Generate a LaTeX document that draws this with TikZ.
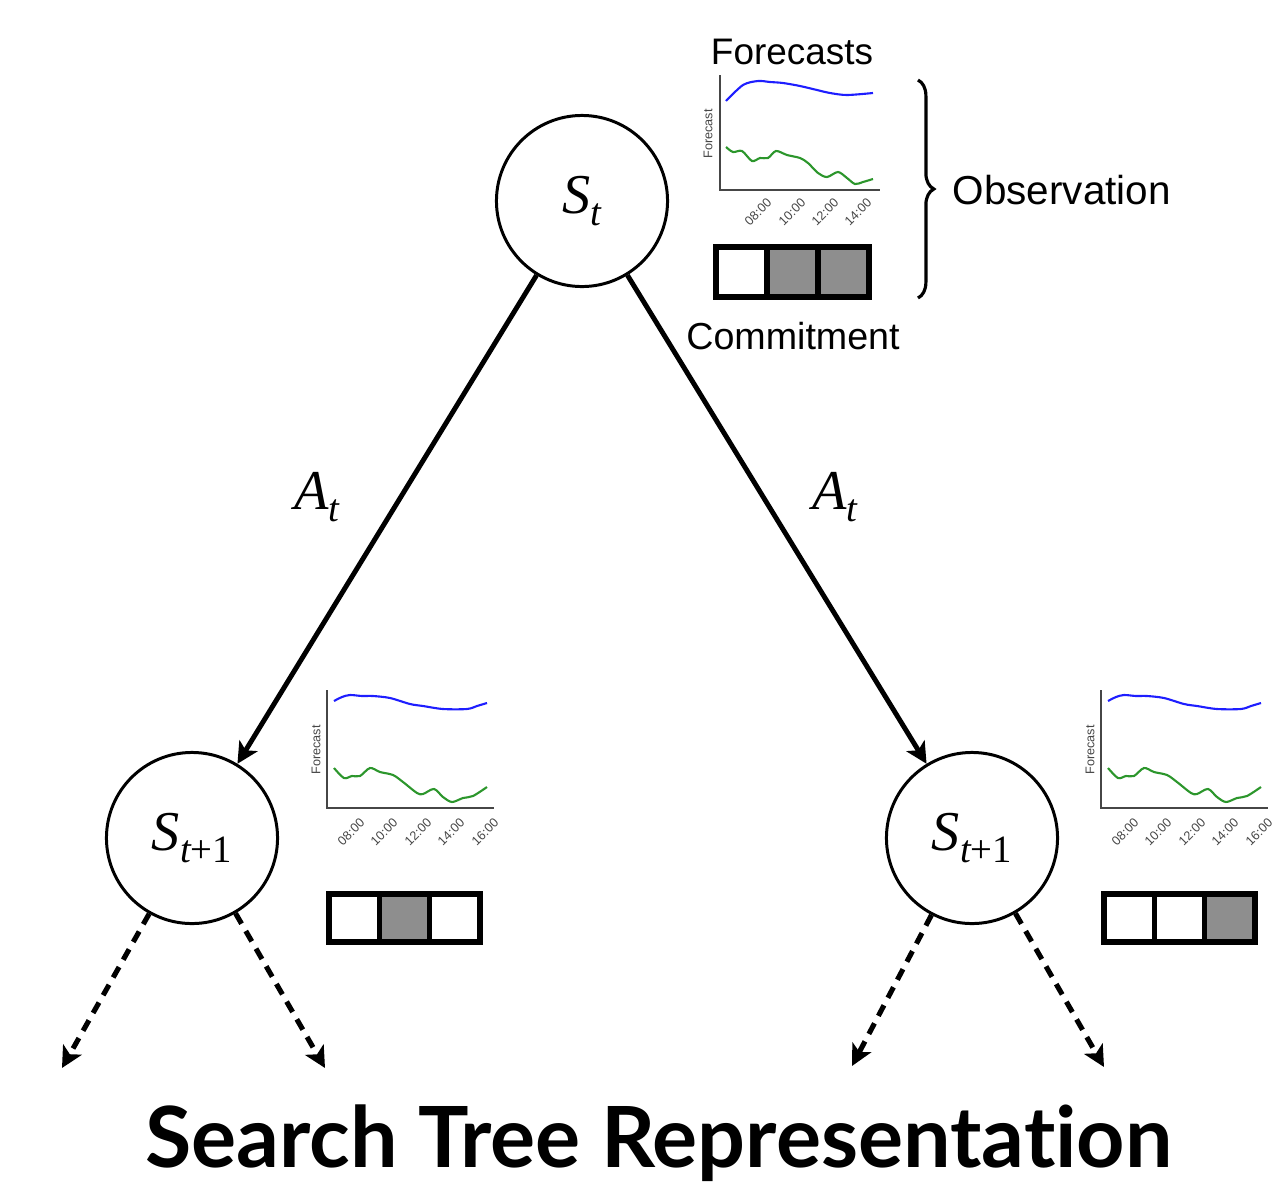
\documentclass[tikz,border=0pt]{standalone}
\usepackage{fontspec}
\setmainfont{Liberation Sans}
\newfontfamily\serifit{Liberation Serif}
\newfontfamily\titlefont{Lato}[Ligatures={NoCommon, NoContextual}]
\usetikzlibrary{arrows.meta,decorations.pathreplacing,positioning}
\definecolor{fcblue}{RGB}{30,30,255}
\definecolor{fcgreen}{RGB}{44,150,44}
\definecolor{cellgray}{RGB}{142,142,142}
\definecolor{axisgray}{RGB}{70,70,70}
\newcommand{\stname}[2]{{\serifit\itshape #1}\raisebox{-3.5pt}{\serifit\itshape\fontsize{11}{11}\selectfont #2}}
\tikzset{
  state/.style={circle, draw, line width=0.85pt, minimum size=1.71cm, inner sep=0pt, font=\fontsize{16}{16}\selectfont},
  act/.style={line width=1.4pt, -{Stealth[length=6pt,width=6pt,inset=1.5pt]}},
  branch/.style={line width=1.45pt, dash pattern=on 3.4pt off 2.4pt, -{Stealth[length=6pt,width=6pt,inset=1.5pt]}},
  cell/.style={draw, line width=1.5pt},
  axis/.style={draw=axisgray, line width=0.4pt},
  tick/.style={rotate=45, text=axisgray, font=\fontsize{3.6}{4}\selectfont},
  curve/.style={line width=0.6pt}
}

\begin{document}
\begin{tikzpicture}[x=0.01cm, y=-0.01cm]
     \useasboundingbox (0,0) rectangle (1281,1181);
     % states
     \node[state] (root) at (582,201) {\stname{S}{t}};
     \node[state] (left) at (192,838) {\stname{S}{t\upshape +1}};
     \node[state] (right) at (972,838) {\stname{S}{t\upshape +1}};
     \draw[act] (root) -- (left);
     \draw[act] (root) -- (right);
     \node[font=\fontsize{16}{16}\selectfont] (actL) at (317,497) {\stname{A}{t}};
     \node[font=\fontsize{16}{16}\selectfont] (actR) at (835,497) {\stname{A}{t}};
     % further branches
     \coordinate (ll) at (62,1068);
     \coordinate (lr) at (325,1068);
     \coordinate (rl) at (852,1066);
     \coordinate (rr) at (1104,1067);
     \draw[branch] (left) -- (ll);
     \draw[branch] (left) -- (lr);
     \draw[branch] (right) -- (rl);
     \draw[branch] (right) -- (rr);

     % observation of the root
     \node[anchor=base, font=\fontsize{10.5}{12}\selectfont] (fcst) at (792,64) {Forecasts};
     \draw[axis] (720,75) -- (720,190) -- (880,190);
     \node[rotate=90, text=axisgray, font=\fontsize{3.6}{4}\selectfont] (ylab) at (708,134) {Forecast};
     \draw[fcblue, curve] plot[smooth] coordinates {(726,101) (743,85) (758,81) (770,82) (783,83) (800,86) (817,90) (830,93) (847,95) (873,93)};
     \draw[fcgreen, curve] plot[smooth] coordinates {(726,147) (733,152) (742,151) (752,161) (760,158) (768,158) (776,151) (787,155) (800,158) (808,163) (818,173) (827,177) (838,172) (847,178) (855,184) (863,182) (873,179)};
     \foreach \x/\t in {758/08:00, 792/10:00, 825/12:00, 858/14:00}
          \node[tick] at (\x,212) {\t};
     \foreach \i/\f in {0/white, 1/cellgray, 2/cellgray}
          \filldraw[cell, fill=\f] (716+51*\i,247) rectangle ++(51,50);
     \node[anchor=base, font=\fontsize{10.7}{12}\selectfont] (commit) at (793,349) {Commitment};
     \draw[decorate, decoration={brace, amplitude=4.5pt}, line width=0.9pt] (918,80) -- (918,298);
     \node[anchor=base west, inner sep=0pt, font=\fontsize{11.5}{13}\selectfont] (obs) at (952,204) {Observation};

     % observations of the children
     \foreach \dx in {0,774} {
       \begin{scope}[shift={(\dx,0)}]
          \draw[axis] (327,690) -- (327,808) -- (494,808);
          \node[rotate=90, text=axisgray, font=\fontsize{3.6}{4}\selectfont] at (316,750) {Forecast};
          \draw[fcblue, curve] plot[smooth] coordinates {(334,701) (342,697) (350,695) (362,696) (373,696) (390,698) (410,704) (423,706) (443,709) (467,709) (477,706) (487,703)};
          \draw[fcgreen, curve] plot[smooth] coordinates {(334,768) (344,778) (352,776) (360,776) (370,768) (380,772) (393,775) (403,782) (417,793) (423,794) (434,789) (443,797) (452,802) (463,798) (473,796) (487,787)};
          \foreach \x/\t in {351/08:00, 384/10:00, 418/12:00, 451/14:00, 485/16:00}
               \node[tick] at (\x,832) {\t};
       \end{scope}
     }
     \foreach \i/\f in {0/white, 1/cellgray, 2/white}
          \filldraw[cell, fill=\f] (329+50.3*\i,894) rectangle ++(50.3,48);
     \foreach \i/\f in {0/white, 1/white, 2/cellgray}
          \filldraw[cell, fill=\f] (1104+50.3*\i,894) rectangle ++(50.3,48);

     \node[anchor=base, font=\titlefont\bfseries\fontsize{24}{26}\selectfont] (title) at (659,1167) {Search Tree Representation};
\end{tikzpicture}
\end{document}
